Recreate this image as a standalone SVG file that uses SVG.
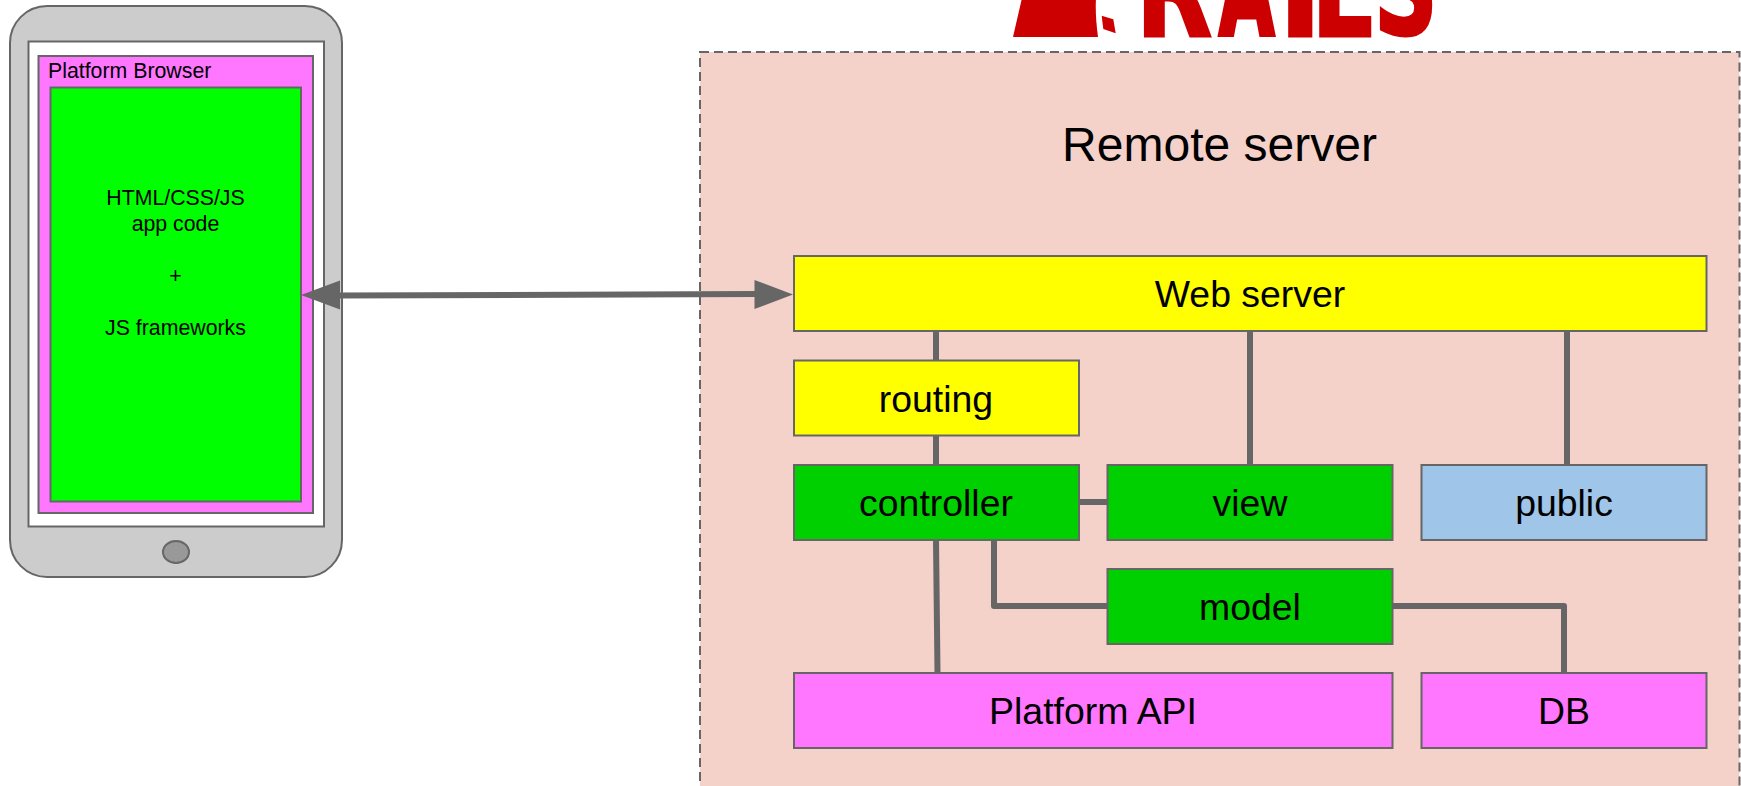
<svg xmlns="http://www.w3.org/2000/svg" width="1741" height="786" viewBox="0 0 1741 786">
<style>
text{font-family:"Liberation Sans",Arial,sans-serif;fill:#000}
.b{stroke:#666;stroke-width:2}
.l{font-size:37.400px;text-anchor:middle}
.s{font-size:21.300px;text-anchor:middle}
.c{fill:none;stroke:#666;stroke-width:6;stroke-linejoin:round}
.y{fill:#ff0}.g{fill:#00d000}.p{fill:#f7f}
.logo{fill:#c00}
text.lt{font-family:"DejaVu Sans",sans-serif;font-weight:700;font-size:130px;fill:#c00;stroke:#c00;stroke-width:3}
</style>
<rect width="1741" height="786" fill="#fff"/>
<g id="rails-logo">
<path class="logo" d="M1022 -2L1096 -2Q1095 15 1098 37L1013 37Z"/>
<path class="logo" d="M1101.700 15.700L1113.300 19.300L1115.700 33.300L1103.300 29Z"/>
<text class="lt" transform="translate(1136 35.500) scale(.76 1)">R</text>
<text class="lt" transform="translate(1219 34) scale(.55 1)" style="stroke-width:5">A</text>
<text class="lt" transform="translate(1279 35.500) scale(.88 1)">I</text>
<text class="lt" transform="translate(1311.500 35.500) scale(.74 1)">L</text>
<text class="lt" transform="translate(1374 34) scale(.68 1)">S</text>
</g>
<g id="remote-server">
<rect x="700" y="52" width="1039.500" height="760" fill="#f4d1c9" stroke="#666" stroke-width="2" stroke-dasharray="9 5"/>
<text x="1219.500" y="161" font-size="48" text-anchor="middle">Remote server</text>
</g>
<g id="phone">
<rect x="10" y="6" width="332" height="571" rx="37" fill="#ccc" stroke="#666" stroke-width="2"/>
<rect x="28.500" y="41.500" width="295.500" height="485" fill="#fff" stroke="#666" stroke-width="2"/>
<ellipse cx="176" cy="552" rx="13" ry="11" fill="#999" stroke="#666" stroke-width="2"/>
</g>
<g id="platform-browser">
<rect class="b p" x="38.500" y="56" width="274.500" height="457"/>
<text x="48" y="78" font-size="21.300">Platform Browser</text>
</g>
<g id="app-code">
<rect class="b" x="50.500" y="87.500" width="250.500" height="414" fill="#0f0"/>
<text class="s" x="175.500" y="205">HTML/CSS/JS</text>
<text class="s" x="175.500" y="231">app code</text>
<text class="s" x="175.500" y="283">+</text>
<text class="s" x="175.500" y="335">JS frameworks</text>
</g>
<g id="connectors">
<path class="c" d="M936 331V360M936 435V465M1250 331V465M1567 331V465M1079 502H1107M936 540L937.500 673M994 540V606H1107M1392 606H1564V673"/>
<path class="c" d="M338 295.500L756 294"/>
<path fill="#666" d="M301 295L340 280.500V309.500Z"/>
<path fill="#666" d="M793 294.500L754.500 280V309Z"/>
</g>
<g id="web-server"><rect class="b y" x="794" y="256" width="912.500" height="75"/><text class="l" x="1250" y="307">Web server</text></g>
<g id="routing"><rect class="b y" x="794" y="360.500" width="285" height="75"/><text class="l" x="936" y="412">routing</text></g>
<g id="controller"><rect class="b g" x="794" y="465" width="285" height="75"/><text class="l" x="936" y="516">controller</text></g>
<g id="view"><rect class="b g" x="1107.500" y="465" width="285" height="75"/><text class="l" x="1250" y="516">view</text></g>
<g id="public"><rect class="b" x="1421.500" y="465" width="285" height="75" fill="#9fc5e8"/><text class="l" x="1564" y="516">public</text></g>
<g id="model"><rect class="b g" x="1107.500" y="569" width="285" height="75"/><text class="l" x="1250" y="620">model</text></g>
<g id="platform-api"><rect class="b p" x="794" y="673" width="598.500" height="75"/><text class="l" x="1093" y="724">Platform API</text></g>
<g id="db"><rect class="b p" x="1421.500" y="673" width="285" height="75"/><text class="l" x="1564" y="724">DB</text></g>
</svg>
